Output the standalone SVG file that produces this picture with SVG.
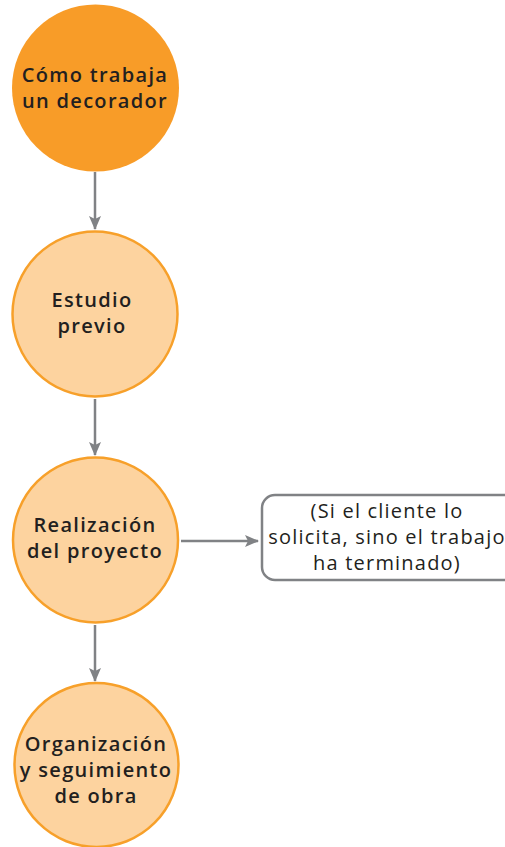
<svg xmlns="http://www.w3.org/2000/svg" width="505" height="847" viewBox="0 0 505 847">
<style>
.t{font-family:"Open Sans","Liberation Sans",sans-serif;font-weight:600;font-size:20px;letter-spacing:1.3px;fill:#231f20;text-anchor:middle}
.r{font-family:"Open Sans","Liberation Sans",sans-serif;font-weight:400;font-size:20px;letter-spacing:1.2px;fill:#231f20;text-anchor:middle}
.c{fill:#fdd39f;stroke:#f7a02a;stroke-width:2.5}
.e{stroke:#808285;stroke-width:2.5;fill:none}
</style>
<defs>
<marker id="ah" markerWidth="14" markerHeight="12" refX="13" refY="6" orient="auto" markerUnits="userSpaceOnUse">
<path d="M0,0 L14,6 L0,12 L3,6 Z" fill="#808285"/>
</marker>
</defs>
<g id="connectors">
<line class="e" x1="95" y1="172" x2="95" y2="229" marker-end="url(#ah)"/>
<line class="e" x1="95" y1="399" x2="95" y2="455" marker-end="url(#ah)"/>
<line class="e" x1="181" y1="541" x2="258" y2="541" marker-end="url(#ah)"/>
<line class="e" x1="95" y1="625" x2="95" y2="681" marker-end="url(#ah)"/>
</g>
<g id="n1">
<circle cx="95.5" cy="88" r="83.5" fill="#f89c28"/>
<text class="t" x="95" y="82">Cómo trabaja</text>
<text class="t" x="95" y="108">un decorador</text>
</g>
<g id="n2">
<circle class="c" cx="95" cy="314" r="82.5"/>
<text class="t" x="92" y="307">Estudio</text>
<text class="t" x="92" y="333">previo</text>
</g>
<g id="n3">
<circle class="c" cx="95.5" cy="540" r="82.5"/>
<text class="t" x="95" y="532">Realización</text>
<text class="t" x="95" y="558">del proyecto</text>
</g>
<g id="n5">
<rect x="262" y="495" width="256" height="85" rx="13" fill="#fff" stroke="#808285" stroke-width="2.5"/>
<text class="r" x="387" y="518">(Si el cliente lo</text>
<text class="r" x="387" y="544">solicita, sino el trabajo</text>
<text class="r" x="387" y="570">ha terminado)</text>
</g>
<g id="n4">
<circle class="c" cx="96.5" cy="765" r="82"/>
<text class="t" x="96" y="751">Organización</text>
<text class="t" x="96" y="777">y seguimiento</text>
<text class="t" x="96" y="803">de obra</text>
</g>
</svg>
